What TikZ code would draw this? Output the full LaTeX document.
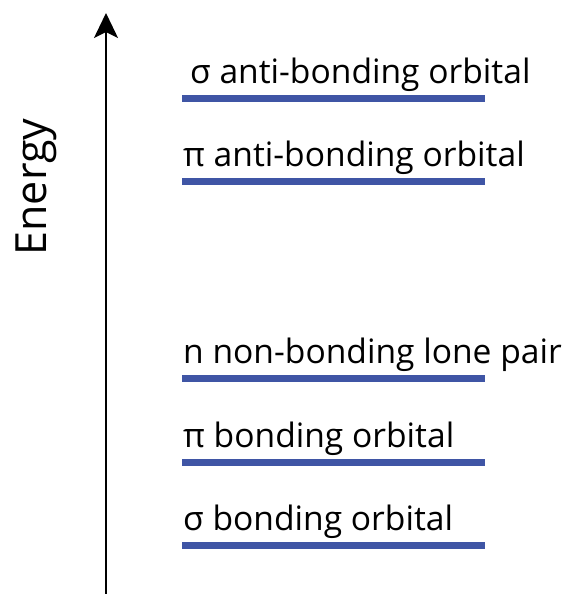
\documentclass[tikz,border=0pt]{standalone}
\usepackage{fontspec}
\setmainfont{Open Sans}
\usetikzlibrary{arrows.meta}
\definecolor{orbblue}{RGB}{63,85,165}
\tikzset{
  lbl/.style={anchor=base west, inner sep=0pt, font=\fontsize{33.6}{36}\selectfont},
  level/.style={draw=orbblue, line width=7pt},
}
\begin{document}
\begin{tikzpicture}[x=1pt,y=1pt]
\useasboundingbox (0,0) rectangle (568,-594);
\coordinate (a0) at (106,-594);
\coordinate (a1) at (106,-13);
\draw[line width=2pt, -{Stealth[length=25pt,width=24pt,inset=6pt]}] (a0) -- (a1);
\node[rotate=90, anchor=base, inner sep=0pt, font=\fontsize{43}{46}\selectfont] (energy) at (46,-187) {Energy};
\foreach \n/\y/\xt/\t in {s2/98/190/{σ anti-bonding orbital}, p2/181/183/{π anti-bonding orbital}, nn/378/183/{n non-bonding lone pair}, p1/462/183/{π bonding orbital}, s1/545/183/{σ bonding orbital}}{
  \coordinate (\n l) at (182,-\y);
  \coordinate (\n r) at (485,-\y);
  \draw[level] (\n l) -- (\n r);
  \node[lbl] (\n t) at (\xt,-\y+15) {\t};
}
\end{tikzpicture}
\end{document}
